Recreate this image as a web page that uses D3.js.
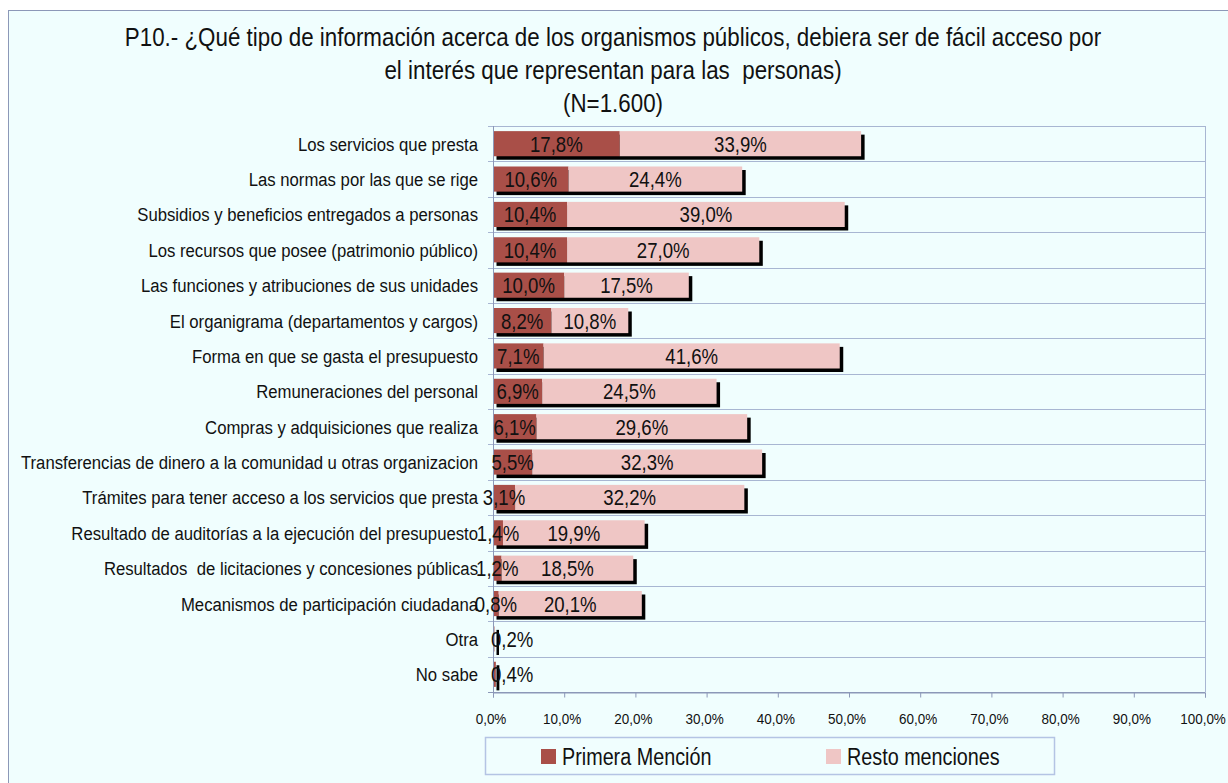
<!DOCTYPE html>
<html>
<head>
<meta charset="utf-8">
<script src="https://cdn.jsdelivr.net/npm/d3@7"></script>
<style>
  body { margin: 0; background: #fff; }
  svg { display: block; font-family: "Liberation Sans", Arial, sans-serif; }
</style>
</head>
<body>
<div id="chart"></div>
<script>
var categories = [
  "Los servicios que presta",
  "Las normas por las que se rige",
  "Subsidios y beneficios entregados a personas",
  "Los recursos que posee (patrimonio público)",
  "Las funciones y atribuciones de sus unidades",
  "El organigrama (departamentos y cargos)",
  "Forma en que se gasta el presupuesto",
  "Remuneraciones del personal",
  "Compras y adquisiciones que realiza",
  "Transferencias de dinero a la comunidad u otras organizacion",
  "Trámites para tener acceso a los servicios que presta",
  "Resultado de auditorías a la ejecución del presupuesto",
  "Resultados  de licitaciones y concesiones públicas",
  "Mecanismos de participación ciudadana",
  "Otra",
  "No sabe"
];
var primera = [17.8, 10.6, 10.4, 10.4, 10.0, 8.2, 7.1, 6.9, 6.1, 5.5, 3.1, 1.4, 1.2, 0.8, 0.2, 0.4];
var resto = [33.9, 24.4, 39.0, 27.0, 17.5, 10.8, 41.6, 24.5, 29.6, 32.3, 32.2, 19.9, 18.5, 20.1, 0, 0];
var ticks = [0, 10, 20, 30, 40, 50, 60, 70, 80, 90, 100];
var seriesNames = ["Primera Mención", "Resto menciones"];
var titleLines = [
  "P10.- ¿Qué tipo de información acerca de los organismos públicos, debiera ser de fácil acceso por",
  "el interés que representan para las  personas)",
  "(N=1.600)"
];

var W = 1228, H = 783;
var colors = ["#A94F48", "#EFC6C5"];
var bg = "#F0FEFE";
var gridColor = "#A8B6D2";

var svg = d3.select("#chart").append("svg").attr("width", W).attr("height", H);

// places a horizontally condensed text (Liberation Sans squeezed to look like Arial Narrow)
function ntext(sel, x, y, str, size, anchor, sx) {
  return sel.append("text")
    .attr("transform", "translate(" + x + "," + y + ") scale(" + sx + ",1)")
    .attr("text-anchor", anchor || "start")
    .attr("font-size", size).attr("fill", "#111")
    .style("white-space", "pre")
    .text(str);
}

// outer frame
svg.append("rect").attr("x", 8.5).attr("y", 10.5).attr("width", W).attr("height", H)
  .attr("fill", bg).attr("stroke", "#8C98B8");

// title
titleLines.forEach(function(t, i) {
  ntext(svg, 613, 46 + i * 33, t, 26, "middle", 0.86);
});

var pLeft = 493, pRight = 1205, pTop = 126, pBottom = 692;
var x = d3.scaleLinear().domain([0, 100]).range([pLeft, pRight]);
var y = d3.scaleBand().domain(categories).range([pTop, pBottom]).paddingInner(0.29).paddingOuter(0.145);
var band = (pBottom - pTop) / categories.length;

// plot border + horizontal gridlines at band boundaries
var g = svg.append("g");
for (var i = 0; i <= categories.length; i++) {
  var yy = Math.round(pTop + i * band) + 0.5;
  g.append("line").attr("x1", pLeft - 5).attr("x2", pRight).attr("y1", yy).attr("y2", yy)
    .attr("stroke", i === categories.length ? "#8C98B8" : gridColor).attr("stroke-width", 1);
}
g.append("line").attr("x1", pRight + 0.5).attr("x2", pRight + 0.5).attr("y1", pTop).attr("y2", pBottom)
  .attr("stroke", gridColor);

// bars
var rows = categories.map(function(c, i) { return { cat: c, p: primera[i], r: resto[i] }; });
var bars = svg.append("g");
bars.selectAll(".shadow").data(rows).enter().append("rect")
  .attr("x", x(0) + 3.5).attr("y", function(d) { return y(d.cat) + 3.5; })
  .attr("width", function(d) { return Math.max(2.5, x(d.p + d.r) - x(0)); })
  .attr("height", y.bandwidth()).attr("fill", "#000");
bars.selectAll(".p").data(rows).enter().append("rect")
  .attr("x", x(0)).attr("y", function(d) { return y(d.cat); })
  .attr("width", function(d) { return x(d.p) - x(0); })
  .attr("height", y.bandwidth()).attr("fill", colors[0]);
bars.selectAll(".r").data(rows).enter().append("rect")
  .attr("x", function(d) { return x(d.p); }).attr("y", function(d) { return y(d.cat); })
  .attr("width", function(d) { return x(d.p + d.r) - x(d.p); })
  .attr("height", y.bandwidth()).attr("fill", colors[1]);

// left axis line
svg.append("line").attr("x1", pLeft + 0.5).attr("x2", pLeft + 0.5).attr("y1", pTop).attr("y2", pBottom + 5)
  .attr("stroke", "#8C98B8");

// data labels
function fmt(v) { return v.toFixed(1).replace(".", ",") + "%"; }
var lab = svg.append("g");
rows.forEach(function(d) {
  var cy = y(d.cat) + y.bandwidth() / 2 + 8;
  if (d.r > 0) {
    ntext(lab, (x(0) + x(d.p)) / 2, cy, fmt(d.p), 22, "middle", 0.845);
    ntext(lab, (x(d.p) + x(d.p + d.r)) / 2, cy, fmt(d.r), 22, "middle", 0.845);
  } else {
    // single tiny bar: label starts at the axis
    ntext(lab, x(0) - 2, cy, fmt(d.p), 22, "start", 0.845);
  }
});

// category labels
var cl = svg.append("g");
categories.forEach(function(c) {
  ntext(cl, 478, y(c) + y.bandwidth() / 2 + 7, c, 19, "end", 0.88);
});

// x axis
var xAxis = svg.append("g").attr("transform", "translate(0," + (pBottom + 0.5) + ")")
  .call(d3.axisBottom(x).tickValues(ticks).tickSize(5).tickFormat(""));
xAxis.select(".domain").attr("stroke", "#8C98B8");
xAxis.selectAll(".tick line").attr("stroke", "#8C98B8");
ticks.forEach(function(t) {
  ntext(svg, x(t) - 2, 724, fmt(t), 15.5, "middle", 0.87);
});

// legend
var leg = svg.append("g");
leg.append("rect").attr("x", 485.5).attr("y", 737.5).attr("width", 569).attr("height", 37)
  .attr("fill", bg).attr("stroke", "#B4C4E4").attr("stroke-width", 1.5);
var legX = [541, 826];
seriesNames.forEach(function(n, i) {
  leg.append("rect").attr("x", legX[i]).attr("y", 749).attr("width", 15).attr("height", 15).attr("fill", colors[i]);
  ntext(leg, legX[i] + 21, 765, n, 23, "start", 0.86);
});
</script>
</body>
</html>
